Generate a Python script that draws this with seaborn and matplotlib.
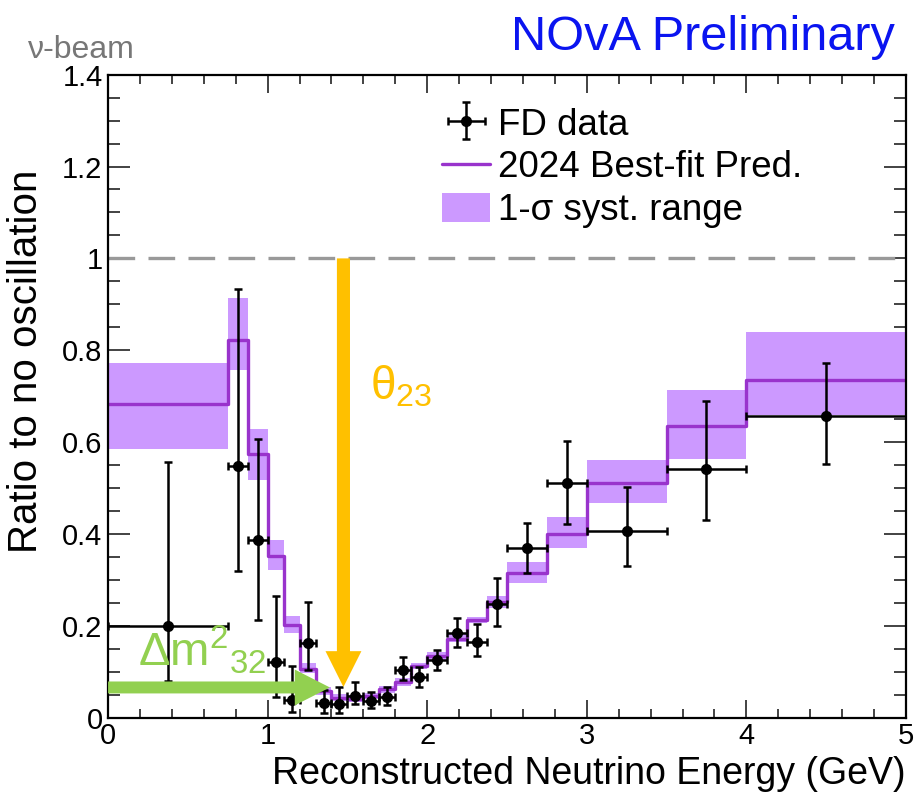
import numpy as np
import matplotlib
matplotlib.use("Agg")
import matplotlib.pyplot as plt
import seaborn as sns
from matplotlib.lines import Line2D
from matplotlib.patches import Patch

# bin edges (GeV)
edges = [0, 0.75, 0.875, 1.0, 1.1, 1.2, 1.3, 1.4, 1.5, 1.6, 1.7, 1.8, 1.9, 2.0,
         2.125, 2.25, 2.375, 2.5, 2.75, 3.0, 3.5, 4.0, 5.0]

# best-fit prediction and 1-sigma band
pred = [0.684, 0.823, 0.574, 0.352, 0.202, 0.106, 0.058, 0.043, 0.041, 0.047, 0.062,
        0.077, 0.112, 0.135, 0.171, 0.213, 0.251, 0.315, 0.399, 0.510, 0.635, 0.736]
band_hi = [0.773, 0.914, 0.628, 0.388, 0.222, 0.119, 0.066, 0.051, 0.049, 0.055, 0.070,
           0.086, 0.119, 0.143, 0.184, 0.220, 0.266, 0.339, 0.436, 0.562, 0.713, 0.840]
band_lo = [0.585, 0.758, 0.517, 0.322, 0.185, 0.098, 0.050, 0.036, 0.034, 0.040, 0.055,
           0.070, 0.106, 0.126, 0.164, 0.206, 0.240, 0.294, 0.369, 0.467, 0.564, 0.659]

# FD data
data_y = [0.200, 0.549, 0.386, 0.122, 0.039, 0.162, 0.032, 0.031, 0.047, 0.036, 0.046,
          0.105, 0.088, 0.126, 0.184, 0.166, 0.248, 0.369, 0.510, 0.407, 0.541, 0.657]
data_hi = [0.557, 0.934, 0.607, 0.264, 0.112, 0.251, 0.061, 0.068, 0.078, 0.057, 0.068,
           0.132, 0.110, 0.148, 0.217, 0.205, 0.305, 0.423, 0.602, 0.503, 0.689, 0.772]
data_lo = [0.079, 0.320, 0.213, 0.046, 0.012, 0.104, 0.010, 0.010, 0.030, 0.021, 0.028,
           0.083, 0.068, 0.104, 0.155, 0.135, 0.199, 0.315, 0.421, 0.330, 0.430, 0.552]

sns.set_theme(style="ticks")
plt.rcParams['font.family'] = ['Liberation Sans', 'DejaVu Sans']
plt.rcParams['mathtext.fontset'] = 'custom'
plt.rcParams['mathtext.rm'] = 'Liberation Sans'
plt.rcParams['mathtext.it'] = 'Liberation Sans'
for k in ['text.color', 'axes.labelcolor', 'xtick.color', 'ytick.color']:
    plt.rcParams[k] = 'black'

LINE = '#9933cc'
BAND = '#cc99ff'
ORANGE = '#ffc000'
GREEN = '#92d050'

fig = plt.figure(figsize=(9.16, 7.94), dpi=100)
ax = fig.add_axes([0.118, 0.096, 0.871, 0.81])

e = np.array(edges)
centers = (e[:-1] + e[1:]) / 2
halfw = (e[1:] - e[:-1]) / 2
y = np.array(data_y)

# systematic band
ax.fill_between(edges, band_lo + [band_lo[-1]], band_hi + [band_hi[-1]],
                step='post', color=BAND, lw=0, zorder=1)

# prediction step line
sns.lineplot(x=edges, y=pred + [pred[-1]], drawstyle='steps-post', color=LINE,
             lw=2.4, estimator=None, ax=ax, zorder=2)

# no-oscillation reference
ax.axhline(1.0, color='#999999', lw=2.4, dashes=(8, 4), zorder=1)

# data
h_data = ax.errorbar(centers, y, xerr=halfw,
                     yerr=[y - np.array(data_lo), np.array(data_hi) - y],
                     fmt='o', color='black', ms=7, elinewidth=1.8, capsize=3,
                     capthick=1.8, zorder=4)

# annotation arrows
ax.arrow(1.475, 1.0, 0, 0.067 - 1.0, width=0.082, head_width=0.225,
         head_length=0.078, length_includes_head=True, color=ORANGE, lw=0, zorder=5)
ax.arrow(0.0, 0.066, 1.39, 0, width=0.026, head_width=0.078,
         head_length=0.22, length_includes_head=True, color=GREEN, lw=0, zorder=5,
         clip_on=False)
ax.text(1.64, 0.692, r'$\mathregular{\theta_{23}}$', color=ORANGE, fontsize=33,
        zorder=6)
ax.text(0.19, 0.112, r'$\mathregular{\Delta m^{2}{}_{32}}$', color=GREEN,
        fontsize=34, zorder=6)

ax.set_xlim(0, 5)
ax.set_ylim(0, 1.4)
ax.set_xticks([0, 1, 2, 3, 4, 5])
ax.set_xticks(np.arange(0, 5.01, 0.2), minor=True)
ax.set_yticks([0, 0.2, 0.4, 0.6, 0.8, 1.0, 1.2, 1.4])
ax.set_yticklabels(['0', '0.2', '0.4', '0.6', '0.8', '1', '1.2', '1.4'])
ax.set_yticks(np.arange(0, 1.401, 0.05), minor=True)
ax.tick_params(axis='both', which='both', direction='in', top=True, right=True,
               labelsize=21, width=1.2, color='#222222')
ax.tick_params(axis='x', which='major', length=13, pad=3)
ax.tick_params(axis='x', which='minor', length=6.5)
ax.tick_params(axis='y', which='major', length=16, pad=4)
ax.tick_params(axis='y', which='minor', length=8.5)
for s in ax.spines.values():
    s.set_linewidth(1.6)
    s.set_color('black')

ax.set_xlabel('Reconstructed Neutrino Energy (GeV)', fontsize=27, ha='right')
ax.xaxis.set_label_coords(1.0, -0.06)
ax.set_ylabel('Ratio to no oscillation', fontsize=29)
ax.yaxis.set_label_coords(-0.079, 0.555)

# legend
h_pred = Line2D([], [], color=LINE, lw=2.4)
h_band = Patch(facecolor=BAND, edgecolor='none')
leg = ax.legend([h_data, h_pred, h_band],
                ['FD data', '2024 Best-fit Pred.', '1-σ syst. range'],
                loc='upper left', bbox_to_anchor=(0.396, 0.978), frameon=False,
                fontsize=26.5, handlelength=1.3, handleheight=0.85,
                handletextpad=0.2, labelspacing=0.2, borderpad=0)

fig.text(0.977, 0.937, 'NOvA Preliminary', color='#0a14f0', fontsize=35,
         ha='right', va='baseline')
fig.text(0.031, 0.927, 'ν-beam', color='#777777', fontsize=23,
         ha='left', va='baseline')

fig.savefig('out.png', dpi=100)
